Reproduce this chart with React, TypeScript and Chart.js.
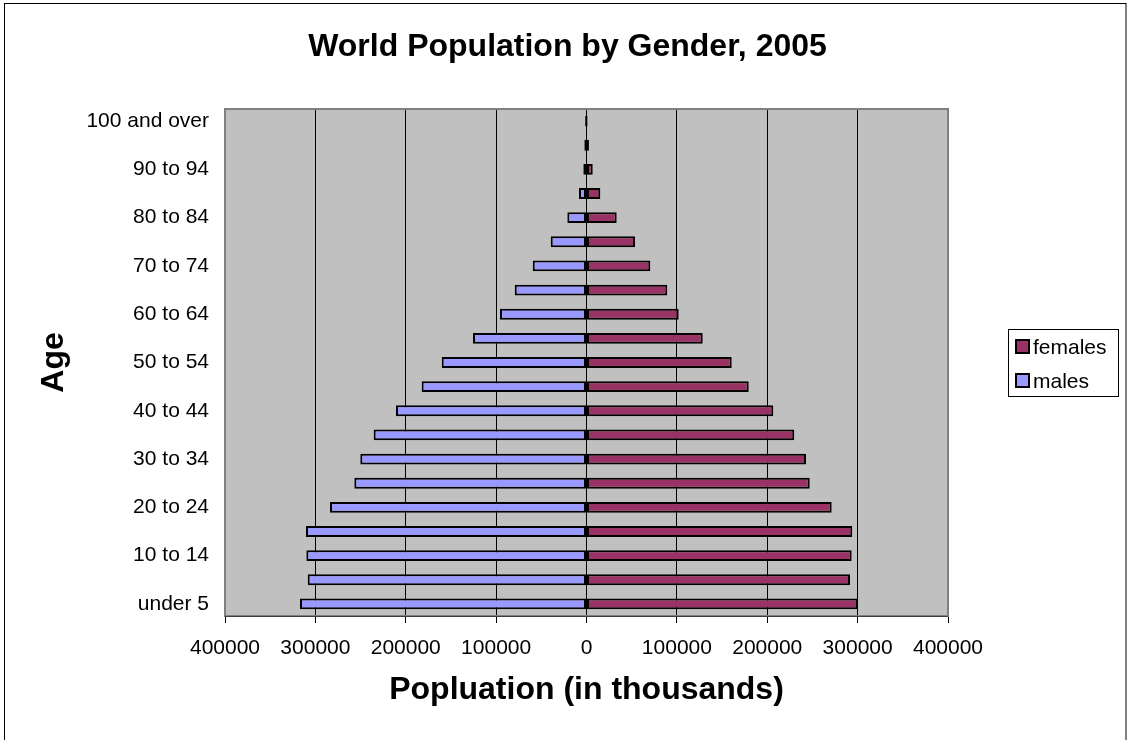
import { useEffect, useRef } from "react";
import { Chart, registerables } from "chart.js";

Chart.register(...registerables);

const FONT = "'Liberation Sans', Arial, sans-serif";

const chartTitle = "World Population by Gender, 2005";
const xAxisTitle = "Popluation (in thousands)";
const yAxisTitle = "Age";

const ageGroups = [
  "under 5", "5 to 9", "10 to 14", "15 to 19", "20 to 24", "25 to 29", "30 to 34",
  "35 to 39", "40 to 44", "45 to 49", "50 to 54", "55 to 59", "60 to 64", "65 to 69",
  "70 to 74", "75 to 79", "80 to 84", "85 to 89", "90 to 94", "95 to 99", "100 and over",
];

const malesThousands = [
  317000, 308500, 310000, 310400, 283800, 256900, 250300, 235500, 210800, 182400,
  160200, 125600, 95700, 79400, 59500, 39600, 21200, 8300, 3500, 2400, 1500,
];

const femalesThousands = [
  300400, 291600, 293400, 294100, 271300, 247000, 242900, 229900, 206700, 179500,
  160700, 128600, 102000, 89400, 70600, 53700, 33400, 15300, 6900, 2700, 1200,
];

const seriesNames = ["males", "females"];
const seriesColors = ["#9999FF", "#993366"];

const xTickValues = [-400000, -300000, -200000, -100000, 0, 100000, 200000, 300000, 400000];

const backgroundPlugin = {
  id: "bgFrame",
  beforeDraw(chart: any) {
    const { ctx, chartArea, width, height } = chart;
    ctx.save();
    ctx.fillStyle = "#FFFFFF";
    ctx.fillRect(0, 0, width, height);
    ctx.fillStyle = "#C0C0C0";
    ctx.fillRect(chartArea.left, chartArea.top, chartArea.right - chartArea.left, chartArea.bottom - chartArea.top);
    ctx.strokeStyle = "#000000";
    ctx.lineWidth = 1;
    ctx.strokeRect(4.5, 3.5, width - 5.5, height);
    ctx.restore();
  },
  beforeDatasetsDraw(chart: any) {
    const { ctx, chartArea } = chart;
    ctx.save();
    ctx.strokeStyle = "#808080";
    ctx.lineWidth = 2;
    ctx.strokeRect(chartArea.left, chartArea.top, chartArea.right - chartArea.left, chartArea.bottom - chartArea.top);
    ctx.strokeStyle = "#404040";
    ctx.lineWidth = 1;
    ctx.beginPath();
    ctx.moveTo(chartArea.left, chartArea.bottom + 0.5);
    ctx.lineTo(chartArea.right, chartArea.bottom + 0.5);
    ctx.stroke();
    ctx.restore();
  },
};

const legendPlugin = {
  id: "boxLegend",
  afterDraw(chart: any) {
    const { ctx, chartArea } = chart;
    const left = Math.round(chartArea.right + 60);
    const cy = (chartArea.top + chartArea.bottom) / 2;
    const top = cy - 34;
    const w = 110;
    const h = 67;
    ctx.save();
    ctx.strokeStyle = "#000000";
    ctx.lineWidth = 1;
    ctx.strokeRect(left + 0.5, Math.round(top) + 0.5, w, h);
    ctx.font = `21px ${FONT}`;
    ctx.textBaseline = "alphabetic";
    ctx.textAlign = "left";
    const items = chart.data.datasets
      .map((d: any) => ({ label: d.label, color: d.backgroundColor }))
      .reverse();
    items.forEach((it: any, k: number) => {
      const base = Math.round(top + 25.5 + k * 34);
      ctx.fillStyle = "#000000";
      ctx.fillRect(left + 7, base - 15, 15, 15);
      ctx.fillStyle = it.color;
      ctx.fillRect(left + 9, base - 13, 11, 11);
      ctx.fillStyle = "#000000";
      ctx.fillText(it.label, left + 25, base);
    });
    ctx.restore();
  },
};

export default function App() {
  const canvasRef = useRef<HTMLCanvasElement | null>(null);

  useEffect(() => {
    if (!canvasRef.current) return;
    const tickFont = { family: FONT, size: 21 };
    const titleFont = { family: FONT, size: 32, weight: "bold" as const };
    const chart = new Chart(canvasRef.current, {
      type: "bar",
      data: {
        labels: ageGroups,
        datasets: [
          {
            label: seriesNames[0],
            data: malesThousands.map((v) => -v),
            backgroundColor: seriesColors[0],
            borderColor: "#000000",
            borderWidth: 2,
            borderSkipped: false,
            barPercentage: 0.45,
            categoryPercentage: 1,
          },
          {
            label: seriesNames[1],
            data: femalesThousands,
            backgroundColor: seriesColors[1],
            borderColor: "#000000",
            borderWidth: 2,
            borderSkipped: false,
            barPercentage: 0.45,
            categoryPercentage: 1,
          },
        ],
      },
      options: {
        indexAxis: "y",
        responsive: false,
        animation: false,
        devicePixelRatio: 1,
        layout: { padding: { left: 8, right: 0, top: 0, bottom: 0 } },
        plugins: {
          legend: { display: false },
          tooltip: { enabled: false },
          title: {
            display: true,
            text: chartTitle,
            color: "#000000",
            font: titleFont,
            padding: { top: 28, bottom: 42.6 },
          },
        },
        scales: {
          x: {
            type: "linear",
            stacked: true,
            min: xTickValues[0],
            max: xTickValues[xTickValues.length - 1],
            afterBuildTicks: (s: any) => {
              s.ticks = xTickValues.map((v) => ({ value: v }));
            },
            ticks: {
              autoSkip: false,
              maxRotation: 0,
              color: "#000000",
              font: tickFont,
              padding: 13,
              callback: (v: any) => String(Math.abs(Number(v))),
            },
            grid: {
              color: "#000000",
              lineWidth: 1,
              drawTicks: true,
              tickLength: 7,
              tickColor: "#000000",
            },
            border: { display: true, color: "#000000", width: 1 },
            title: {
              display: true,
              text: xAxisTitle,
              color: "#000000",
              font: titleFont,
              padding: { top: 0, bottom: 31 },
            },
            afterFit: (s: any) => {
              s.height = 124;
            },
          },
          y: {
            type: "category",
            stacked: true,
            reverse: true,
            ticks: {
              autoSkip: false,
              color: "#000000",
              font: tickFont,
              padding: 8,
              callback: (_v: any, i: number) => (i % 2 === 0 ? ageGroups[i] : ""),
            },
            grid: { display: false },
            border: { display: false },
            title: {
              display: true,
              text: yAxisTitle,
              color: "#000000",
              font: titleFont,
              padding: { top: 27, bottom: 0 },
            },
            afterFit: (s: any) => {
              s.width = 217;
            },
          },
          yR: {
            type: "linear",
            position: "right",
            display: true,
            ticks: { display: false },
            grid: { display: false },
            border: { display: false },
            afterFit: (s: any) => {
              s.width = 179;
            },
          },
        },
      } as any,
      plugins: [backgroundPlugin, legendPlugin],
    });
    return () => chart.destroy();
  }, []);

  return (
    <div style={{ position: "absolute", left: 0, top: 0, width: 1127, height: 740, background: "#fff" }}>
      <canvas ref={canvasRef} width={1127} height={740} style={{ width: 1127, height: 740, display: "block" }} />
    </div>
  );
}
